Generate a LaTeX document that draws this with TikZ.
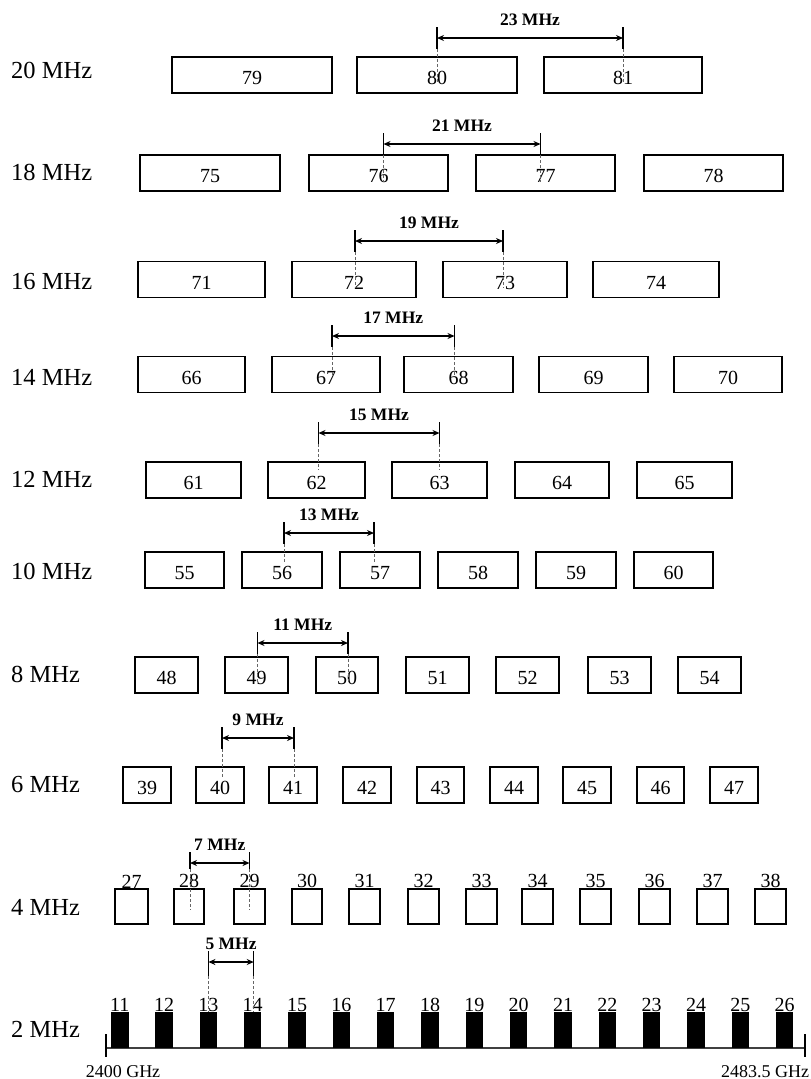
\documentclass[tikz,border=0pt]{standalone}
\usepackage{fontspec}
\setmainfont{Liberation Serif}
\usetikzlibrary{arrows.meta,calc}
\tikzset{
  chbox/.style={draw, line width=1.3pt, inner sep=0pt, minimum height=36pt,
    font=\fontsize{20}{20}\selectfont, text height=19pt, text depth=0pt},
  smallbox/.style={draw, line width=1.3pt, inner sep=0pt, minimum height=35pt,
    minimum width=31pt, label distance=4pt},
  chbar/.style={fill=black, inner sep=0pt, minimum height=36pt, minimum width=17.5pt,
    label distance=9pt},
  numlab/.style={inner sep=0pt, font=\fontsize{20}{20}\selectfont},
  rowlab/.style={anchor=base west, inner sep=0pt, font=\fontsize{24.5}{24.5}\selectfont},
  dimlabel/.style={anchor=south, yshift=12pt, inner sep=0pt, font=\bfseries\fontsize{17.5}{17.5}\selectfont},
  tickline/.style={line width=1.2pt},
  dashline/.style={line width=0.7pt, black!60, dash pattern=on 3pt off 2pt},
  dimarrow/.style={line width=1.5pt, {Stealth[length=7pt,width=6pt]}-{Stealth[length=7pt,width=6pt]}},
  axisline/.style={line width=1.2pt, black!75},
  axlab/.style={anchor=base, inner sep=0pt, font=\fontsize{18}{18}\selectfont}
}
\newcommand{\chdim}[8]{%
  \coordinate (dl) at ($(#1.center)+(#2,0)$);
  \coordinate (dr) at ($(#3.center)+(#4,0)$);
  \coordinate (ytop) at (0,#5-11);
  \coordinate (yarr) at (0,#5);
  \coordinate (ysol) at (0,#6);
  \coordinate (yend) at (0,#7);
  \draw[tickline] (dl |- ytop) -- (dl |- ysol);
  \draw[tickline] (dr |- ytop) -- (dr |- ysol);
  \draw[dashline] (dl |- ysol) -- (dl |- yend);
  \draw[dashline] (dr |- ysol) -- (dr |- yend);
  \draw[dimarrow] (dl |- yarr) -- node[dimlabel] {#8} (dr |- yarr);
}
\begin{document}
\begin{tikzpicture}[x=1pt,y=-1pt]
\useasboundingbox (0,0) rectangle (811,1079);
\fill[white] (0,0) rectangle (811,1079);

% row labels
\node[rowlab] (lab20) at (11,78) {20 MHz};
\node[rowlab] (lab18) at (11,180) {18 MHz};
\node[rowlab] (lab16) at (11,289) {16 MHz};
\node[rowlab] (lab14) at (11,385) {14 MHz};
\node[rowlab] (lab12) at (11,487) {12 MHz};
\node[rowlab] (lab10) at (11,579) {10 MHz};
\node[rowlab] (lab8) at (11,682) {8 MHz};
\node[rowlab] (lab6) at (11,792) {6 MHz};
\node[rowlab] (lab4) at (11,915) {4 MHz};
\node[rowlab] (lab2) at (11,1037) {2 MHz};

% 20 MHz
\foreach \n/\a/\b in {79/172/332, 80/357/517, 81/544/702}
  \node[chbox, minimum width={(\b-\a)*1pt}] (c\n) at ({(\a+\b)/2},75) {\n};
% 18 MHz
\foreach \n/\a/\b in {75/140/280, 76/309/448, 77/476/615, 78/644/783}
  \node[chbox, minimum width={(\b-\a)*1pt}] (c\n) at ({(\a+\b)/2},173) {\n};
% 16 MHz
\foreach \n/\a/\b in {71/138/265, 72/292/416, 73/443/567, 74/593/719}
  \node[chbox, minimum width={(\b-\a)*1pt}] (c\n) at ({(\a+\b)/2},279.5) {\n};
% 14 MHz
\foreach \n/\a/\b in {66/138/245, 67/272/380, 68/404/513, 69/539/648, 70/674/782}
  \node[chbox, minimum width={(\b-\a)*1pt}] (c\n) at ({(\a+\b)/2},374.5) {\n};
% 12 MHz
\foreach \n/\a/\b in {61/146/241, 62/268/365, 63/392/487, 64/515/609, 65/637/732}
  \node[chbox, minimum width={(\b-\a)*1pt}] (c\n) at ({(\a+\b)/2},480) {\n};
% 10 MHz
\foreach \n/\a/\b in {55/145/224, 56/242/322, 57/340/420, 58/438/518, 59/536/616, 60/634/713}
  \node[chbox, minimum width={(\b-\a)*1pt}] (c\n) at ({(\a+\b)/2},570) {\n};
% 8 MHz
\foreach \n/\a/\b in {48/135/198, 49/225/288, 50/316/378, 51/406/469, 52/496/559, 53/588/651, 54/678/741}
  \node[chbox, minimum width={(\b-\a)*1pt}] (c\n) at ({(\a+\b)/2},675) {\n};
% 6 MHz
\foreach \n/\a/\b in {39/123/171, 40/196/244, 41/269/317, 42/343/391, 43/417/464, 44/490/538, 45/563/611, 46/637/684, 47/710/758}
  \node[chbox, minimum width={(\b-\a)*1pt}] (c\n) at ({(\a+\b)/2},785) {\n};
% 4 MHz
\foreach \n/\a/\b in {27/115/148, 28/174/204, 29/234/265, 30/292/322, 31/349/380, 32/408/439, 33/466/497, 34/522/553, 35/580/611, 36/639/670, 37/697/728, 38/755/786}
  \node[smallbox, minimum width={(\b-\a)*1pt}, label={[numlab]north:\n}] (c\n) at ({(\a+\b)/2},906.5) {};

% 2 MHz axis
\coordinate (axl) at (106,1048);
\coordinate (axr) at (805,1048);
\draw[axisline] (axl) -- (axr);
\draw[tickline] ($(axl)+(0,-14)$) -- ($(axl)+(0,9)$);
\draw[tickline] ($(axr)+(0,-14)$) -- ($(axr)+(0,9)$);
\node[axlab] (f1) at (123,1077) {2400 GHz};
\node[axlab] (f2) at (765,1077) {2483.5 GHz};
\foreach \n in {11,...,26}
  \node[chbar, label={[numlab]north:\n}] (b\n) at ({119.75+(\n-11)*44.33},1030) {};

% spacing dimensions
\chdim{c80}{0}{c81}{0}{38}{49}{82}{23 MHz}
\chdim{c76}{5}{c77}{-5}{144}{155}{182}{21 MHz}
\chdim{c72}{1}{c73}{-2}{241}{252}{288}{19 MHz}
\chdim{c67}{6}{c68}{-4}{336}{347}{375}{17 MHz}
\chdim{c62}{2}{c63}{0}{433}{444}{470}{15 MHz}
\chdim{c56}{2}{c57}{-6}{533}{544}{563}{13 MHz}
\chdim{c49}{1}{c50}{1}{643}{654}{683}{11 MHz}
\chdim{c40}{2}{c41}{1}{738}{749}{777}{9 MHz}
\chdim{c28}{1}{c29}{0}{863}{869}{910}{7 MHz}
\chdim{b13}{0}{b14}{1}{962}{976}{1012}{5 MHz}
\end{tikzpicture}
\end{document}
